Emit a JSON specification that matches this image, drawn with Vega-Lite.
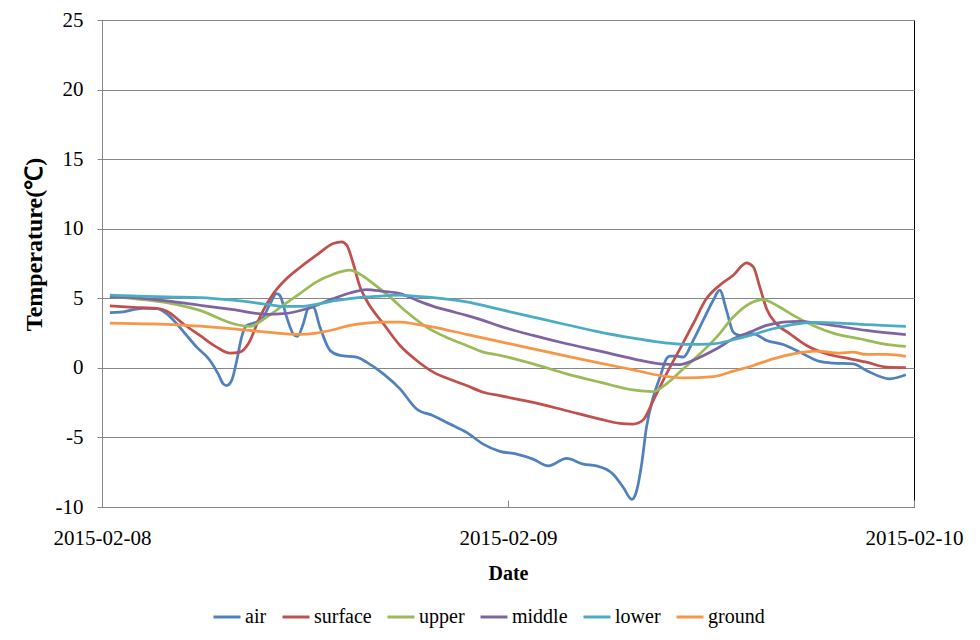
{
  "$schema": "https://vega.github.io/schema/vega-lite/v6.json",
  "width": 812,
  "height": 487,
  "autosize": {"type": "none"},
  "padding": {"left": 102, "top": 20, "right": 66, "bottom": 133},
  "background": "#ffffff",
  "config": {
    "view": {"stroke": "#000000", "strokeWidth": 1},
    "font": "Liberation Serif"
  },
  "data": {
    "values": [
      {"t": "2015-02-08T00:28", "s": "air", "v": 3.97},
      {"t": "2015-02-08T01:04", "s": "air", "v": 4.0},
      {"t": "2015-02-08T01:51", "s": "air", "v": 4.18},
      {"t": "2015-02-08T02:26", "s": "air", "v": 4.28},
      {"t": "2015-02-08T03:14", "s": "air", "v": 4.25},
      {"t": "2015-02-08T03:49", "s": "air", "v": 3.9},
      {"t": "2015-02-08T04:25", "s": "air", "v": 3.17},
      {"t": "2015-02-08T05:00", "s": "air", "v": 2.33},
      {"t": "2015-02-08T05:36", "s": "air", "v": 1.49},
      {"t": "2015-02-08T06:23", "s": "air", "v": 0.53},
      {"t": "2015-02-08T06:52", "s": "air", "v": -0.43},
      {"t": "2015-02-08T07:10", "s": "air", "v": -1.15},
      {"t": "2015-02-08T07:22", "s": "air", "v": -1.27},
      {"t": "2015-02-08T07:40", "s": "air", "v": -0.9},
      {"t": "2015-02-08T07:58", "s": "air", "v": 0.53},
      {"t": "2015-02-08T08:15", "s": "air", "v": 2.2},
      {"t": "2015-02-08T08:33", "s": "air", "v": 3.05},
      {"t": "2015-02-08T09:09", "s": "air", "v": 3.3},
      {"t": "2015-02-08T09:32", "s": "air", "v": 3.65},
      {"t": "2015-02-08T09:56", "s": "air", "v": 4.6},
      {"t": "2015-02-08T10:19", "s": "air", "v": 5.34},
      {"t": "2015-02-08T10:31", "s": "air", "v": 5.2},
      {"t": "2015-02-08T10:55", "s": "air", "v": 3.65},
      {"t": "2015-02-08T11:18", "s": "air", "v": 2.45},
      {"t": "2015-02-08T11:33", "s": "air", "v": 2.26},
      {"t": "2015-02-08T11:54", "s": "air", "v": 3.17},
      {"t": "2015-02-08T12:11", "s": "air", "v": 4.25},
      {"t": "2015-02-08T12:29", "s": "air", "v": 4.37},
      {"t": "2015-02-08T12:53", "s": "air", "v": 2.93},
      {"t": "2015-02-08T13:29", "s": "air", "v": 1.25},
      {"t": "2015-02-08T14:04", "s": "air", "v": 0.89},
      {"t": "2015-02-08T15:03", "s": "air", "v": 0.77},
      {"t": "2015-02-08T15:38", "s": "air", "v": 0.41},
      {"t": "2015-02-08T16:38", "s": "air", "v": -0.43},
      {"t": "2015-02-08T17:37", "s": "air", "v": -1.51},
      {"t": "2015-02-08T18:36", "s": "air", "v": -2.96},
      {"t": "2015-02-08T19:35", "s": "air", "v": -3.44},
      {"t": "2015-02-08T20:34", "s": "air", "v": -4.04},
      {"t": "2015-02-08T21:33", "s": "air", "v": -4.64},
      {"t": "2015-02-08T22:32", "s": "air", "v": -5.48},
      {"t": "2015-02-08T23:31", "s": "air", "v": -6.0},
      {"t": "2015-02-09T00:31", "s": "air", "v": -6.2},
      {"t": "2015-02-09T01:29", "s": "air", "v": -6.56},
      {"t": "2015-02-09T02:23", "s": "air", "v": -7.04},
      {"t": "2015-02-09T03:28", "s": "air", "v": -6.51},
      {"t": "2015-02-09T04:27", "s": "air", "v": -6.92},
      {"t": "2015-02-09T05:14", "s": "air", "v": -7.04},
      {"t": "2015-02-09T06:13", "s": "air", "v": -7.64},
      {"t": "2015-02-09T06:49", "s": "air", "v": -8.6},
      {"t": "2015-02-09T07:19", "s": "air", "v": -9.45},
      {"t": "2015-02-09T07:36", "s": "air", "v": -8.85},
      {"t": "2015-02-09T07:54", "s": "air", "v": -6.92},
      {"t": "2015-02-09T08:11", "s": "air", "v": -4.28},
      {"t": "2015-02-09T08:35", "s": "air", "v": -2.1},
      {"t": "2015-02-09T08:59", "s": "air", "v": -0.67},
      {"t": "2015-02-09T09:22", "s": "air", "v": 0.65},
      {"t": "2015-02-09T09:34", "s": "air", "v": 0.84},
      {"t": "2015-02-09T09:58", "s": "air", "v": 0.84},
      {"t": "2015-02-09T10:22", "s": "air", "v": 0.77},
      {"t": "2015-02-09T10:57", "s": "air", "v": 1.97},
      {"t": "2015-02-09T11:32", "s": "air", "v": 3.41},
      {"t": "2015-02-09T12:08", "s": "air", "v": 4.86},
      {"t": "2015-02-09T12:31", "s": "air", "v": 5.58},
      {"t": "2015-02-09T12:55", "s": "air", "v": 4.13},
      {"t": "2015-02-09T13:19", "s": "air", "v": 2.57},
      {"t": "2015-02-09T13:42", "s": "air", "v": 2.33},
      {"t": "2015-02-09T14:30", "s": "air", "v": 2.45},
      {"t": "2015-02-09T15:17", "s": "air", "v": 1.97},
      {"t": "2015-02-09T16:16", "s": "air", "v": 1.68},
      {"t": "2015-02-09T17:15", "s": "air", "v": 1.13},
      {"t": "2015-02-09T18:26", "s": "air", "v": 0.46},
      {"t": "2015-02-09T19:13", "s": "air", "v": 0.34},
      {"t": "2015-02-09T20:24", "s": "air", "v": 0.29},
      {"t": "2015-02-09T21:11", "s": "air", "v": -0.19},
      {"t": "2015-02-09T22:34", "s": "air", "v": -0.79},
      {"t": "2015-02-09T23:31", "s": "air", "v": -0.5},

      {"t": "2015-02-08T00:28", "s": "surface", "v": 4.45},
      {"t": "2015-02-08T01:51", "s": "surface", "v": 4.35},
      {"t": "2015-02-08T03:14", "s": "surface", "v": 4.28},
      {"t": "2015-02-08T03:49", "s": "surface", "v": 4.09},
      {"t": "2015-02-08T04:48", "s": "surface", "v": 3.17},
      {"t": "2015-02-08T05:47", "s": "surface", "v": 2.33},
      {"t": "2015-02-08T06:47", "s": "surface", "v": 1.49},
      {"t": "2015-02-08T07:34", "s": "surface", "v": 1.06},
      {"t": "2015-02-08T08:09", "s": "surface", "v": 1.13},
      {"t": "2015-02-08T08:39", "s": "surface", "v": 1.73},
      {"t": "2015-02-08T09:20", "s": "surface", "v": 3.65},
      {"t": "2015-02-08T10:08", "s": "surface", "v": 5.34},
      {"t": "2015-02-08T10:55", "s": "surface", "v": 6.42},
      {"t": "2015-02-08T11:42", "s": "surface", "v": 7.21},
      {"t": "2015-02-08T12:41", "s": "surface", "v": 8.1},
      {"t": "2015-02-08T13:40", "s": "surface", "v": 8.94},
      {"t": "2015-02-08T14:10", "s": "surface", "v": 9.06},
      {"t": "2015-02-08T14:28", "s": "surface", "v": 8.82},
      {"t": "2015-02-08T14:51", "s": "surface", "v": 7.5},
      {"t": "2015-02-08T15:15", "s": "surface", "v": 5.82},
      {"t": "2015-02-08T15:38", "s": "surface", "v": 4.86},
      {"t": "2015-02-08T16:38", "s": "surface", "v": 3.17},
      {"t": "2015-02-08T17:37", "s": "surface", "v": 1.61},
      {"t": "2015-02-08T18:36", "s": "surface", "v": 0.53},
      {"t": "2015-02-08T19:35", "s": "surface", "v": -0.31},
      {"t": "2015-02-08T20:46", "s": "surface", "v": -0.91},
      {"t": "2015-02-08T21:33", "s": "surface", "v": -1.27},
      {"t": "2015-02-08T22:32", "s": "surface", "v": -1.75},
      {"t": "2015-02-08T23:31", "s": "surface", "v": -2.0},
      {"t": "2015-02-09T01:29", "s": "surface", "v": -2.48},
      {"t": "2015-02-09T03:28", "s": "surface", "v": -3.08},
      {"t": "2015-02-09T05:26", "s": "surface", "v": -3.68},
      {"t": "2015-02-09T06:37", "s": "surface", "v": -3.99},
      {"t": "2015-02-09T07:24", "s": "surface", "v": -4.04},
      {"t": "2015-02-09T07:59", "s": "surface", "v": -3.75},
      {"t": "2015-02-09T08:35", "s": "surface", "v": -2.36},
      {"t": "2015-02-09T09:22", "s": "surface", "v": -0.43},
      {"t": "2015-02-09T10:10", "s": "surface", "v": 1.37},
      {"t": "2015-02-09T10:57", "s": "surface", "v": 3.17},
      {"t": "2015-02-09T11:44", "s": "surface", "v": 4.98},
      {"t": "2015-02-09T12:31", "s": "surface", "v": 5.94},
      {"t": "2015-02-09T13:19", "s": "surface", "v": 6.66},
      {"t": "2015-02-09T14:06", "s": "surface", "v": 7.55},
      {"t": "2015-02-09T14:30", "s": "surface", "v": 7.26},
      {"t": "2015-02-09T14:53", "s": "surface", "v": 5.82},
      {"t": "2015-02-09T15:17", "s": "surface", "v": 4.25},
      {"t": "2015-02-09T15:52", "s": "surface", "v": 3.17},
      {"t": "2015-02-09T16:40", "s": "surface", "v": 2.45},
      {"t": "2015-02-09T17:39", "s": "surface", "v": 1.61},
      {"t": "2015-02-09T18:50", "s": "surface", "v": 1.01},
      {"t": "2015-02-09T20:13", "s": "surface", "v": 0.65},
      {"t": "2015-02-09T21:11", "s": "surface", "v": 0.41},
      {"t": "2015-02-09T22:23", "s": "surface", "v": 0.05},
      {"t": "2015-02-09T23:31", "s": "surface", "v": 0.02},

      {"t": "2015-02-08T00:28", "s": "upper", "v": 5.14},
      {"t": "2015-02-08T01:51", "s": "upper", "v": 4.98},
      {"t": "2015-02-08T03:49", "s": "upper", "v": 4.69},
      {"t": "2015-02-08T05:47", "s": "upper", "v": 4.13},
      {"t": "2015-02-08T07:46", "s": "upper", "v": 3.17},
      {"t": "2015-02-08T08:45", "s": "upper", "v": 2.98},
      {"t": "2015-02-08T09:44", "s": "upper", "v": 3.65},
      {"t": "2015-02-08T10:43", "s": "upper", "v": 4.5},
      {"t": "2015-02-08T11:42", "s": "upper", "v": 5.34},
      {"t": "2015-02-08T12:41", "s": "upper", "v": 6.18},
      {"t": "2015-02-08T13:40", "s": "upper", "v": 6.73},
      {"t": "2015-02-08T14:39", "s": "upper", "v": 7.02},
      {"t": "2015-02-08T15:15", "s": "upper", "v": 6.73},
      {"t": "2015-02-08T16:02", "s": "upper", "v": 6.06},
      {"t": "2015-02-08T17:01", "s": "upper", "v": 5.1},
      {"t": "2015-02-08T18:01", "s": "upper", "v": 4.01},
      {"t": "2015-02-08T19:11", "s": "upper", "v": 2.93},
      {"t": "2015-02-08T20:34", "s": "upper", "v": 2.09},
      {"t": "2015-02-08T21:33", "s": "upper", "v": 1.61},
      {"t": "2015-02-08T22:32", "s": "upper", "v": 1.13},
      {"t": "2015-02-08T23:31", "s": "upper", "v": 0.9},
      {"t": "2015-02-09T01:29", "s": "upper", "v": 0.29},
      {"t": "2015-02-09T03:28", "s": "upper", "v": -0.43},
      {"t": "2015-02-09T05:26", "s": "upper", "v": -1.03},
      {"t": "2015-02-09T07:24", "s": "upper", "v": -1.59},
      {"t": "2015-02-09T08:35", "s": "upper", "v": -1.71},
      {"t": "2015-02-09T09:22", "s": "upper", "v": -1.15},
      {"t": "2015-02-09T10:22", "s": "upper", "v": -0.07},
      {"t": "2015-02-09T11:21", "s": "upper", "v": 1.01},
      {"t": "2015-02-09T12:20", "s": "upper", "v": 2.21},
      {"t": "2015-02-09T13:19", "s": "upper", "v": 3.65},
      {"t": "2015-02-09T14:18", "s": "upper", "v": 4.62},
      {"t": "2015-02-09T15:05", "s": "upper", "v": 4.9},
      {"t": "2015-02-09T15:52", "s": "upper", "v": 4.5},
      {"t": "2015-02-09T16:52", "s": "upper", "v": 3.77},
      {"t": "2015-02-09T18:02", "s": "upper", "v": 3.05},
      {"t": "2015-02-09T19:13", "s": "upper", "v": 2.5},
      {"t": "2015-02-09T20:48", "s": "upper", "v": 2.09},
      {"t": "2015-02-09T22:11", "s": "upper", "v": 1.73},
      {"t": "2015-02-09T23:31", "s": "upper", "v": 1.54},

      {"t": "2015-02-08T00:28", "s": "middle", "v": 5.1},
      {"t": "2015-02-08T01:51", "s": "middle", "v": 5.05},
      {"t": "2015-02-08T03:49", "s": "middle", "v": 4.81},
      {"t": "2015-02-08T05:47", "s": "middle", "v": 4.5},
      {"t": "2015-02-08T07:46", "s": "middle", "v": 4.18},
      {"t": "2015-02-08T09:44", "s": "middle", "v": 3.85},
      {"t": "2015-02-08T10:43", "s": "middle", "v": 3.89},
      {"t": "2015-02-08T12:06", "s": "middle", "v": 4.25},
      {"t": "2015-02-08T13:40", "s": "middle", "v": 4.98},
      {"t": "2015-02-08T14:39", "s": "middle", "v": 5.38},
      {"t": "2015-02-08T15:38", "s": "middle", "v": 5.63},
      {"t": "2015-02-08T16:38", "s": "middle", "v": 5.5},
      {"t": "2015-02-08T17:37", "s": "middle", "v": 5.34},
      {"t": "2015-02-08T18:36", "s": "middle", "v": 4.86},
      {"t": "2015-02-08T19:35", "s": "middle", "v": 4.42},
      {"t": "2015-02-08T20:34", "s": "middle", "v": 4.09},
      {"t": "2015-02-08T21:33", "s": "middle", "v": 3.77},
      {"t": "2015-02-08T22:32", "s": "middle", "v": 3.41},
      {"t": "2015-02-08T23:31", "s": "middle", "v": 3.0},
      {"t": "2015-02-09T01:29", "s": "middle", "v": 2.33},
      {"t": "2015-02-09T03:28", "s": "middle", "v": 1.73},
      {"t": "2015-02-09T05:26", "s": "middle", "v": 1.2},
      {"t": "2015-02-09T07:24", "s": "middle", "v": 0.65},
      {"t": "2015-02-09T08:59", "s": "middle", "v": 0.29},
      {"t": "2015-02-09T10:10", "s": "middle", "v": 0.24},
      {"t": "2015-02-09T11:21", "s": "middle", "v": 0.77},
      {"t": "2015-02-09T12:20", "s": "middle", "v": 1.37},
      {"t": "2015-02-09T13:19", "s": "middle", "v": 2.09},
      {"t": "2015-02-09T14:18", "s": "middle", "v": 2.57},
      {"t": "2015-02-09T15:17", "s": "middle", "v": 3.05},
      {"t": "2015-02-09T16:16", "s": "middle", "v": 3.29},
      {"t": "2015-02-09T17:15", "s": "middle", "v": 3.34},
      {"t": "2015-02-09T18:14", "s": "middle", "v": 3.22},
      {"t": "2015-02-09T19:13", "s": "middle", "v": 3.05},
      {"t": "2015-02-09T21:11", "s": "middle", "v": 2.69},
      {"t": "2015-02-09T23:31", "s": "middle", "v": 2.38},

      {"t": "2015-02-08T00:28", "s": "lower", "v": 5.22},
      {"t": "2015-02-08T01:51", "s": "lower", "v": 5.17},
      {"t": "2015-02-08T03:49", "s": "lower", "v": 5.1},
      {"t": "2015-02-08T05:47", "s": "lower", "v": 5.05},
      {"t": "2015-02-08T07:46", "s": "lower", "v": 4.86},
      {"t": "2015-02-08T09:44", "s": "lower", "v": 4.57},
      {"t": "2015-02-08T10:43", "s": "lower", "v": 4.42},
      {"t": "2015-02-08T11:42", "s": "lower", "v": 4.42},
      {"t": "2015-02-08T12:41", "s": "lower", "v": 4.57},
      {"t": "2015-02-08T13:40", "s": "lower", "v": 4.81},
      {"t": "2015-02-08T14:39", "s": "lower", "v": 4.98},
      {"t": "2015-02-08T15:38", "s": "lower", "v": 5.1},
      {"t": "2015-02-08T16:38", "s": "lower", "v": 5.17},
      {"t": "2015-02-08T17:37", "s": "lower", "v": 5.22},
      {"t": "2015-02-08T18:36", "s": "lower", "v": 5.14},
      {"t": "2015-02-08T19:35", "s": "lower", "v": 5.05},
      {"t": "2015-02-08T21:33", "s": "lower", "v": 4.74},
      {"t": "2015-02-08T23:31", "s": "lower", "v": 4.2},
      {"t": "2015-02-09T01:29", "s": "lower", "v": 3.65},
      {"t": "2015-02-09T03:28", "s": "lower", "v": 3.1},
      {"t": "2015-02-09T05:26", "s": "lower", "v": 2.57},
      {"t": "2015-02-09T07:24", "s": "lower", "v": 2.14},
      {"t": "2015-02-09T09:22", "s": "lower", "v": 1.78},
      {"t": "2015-02-09T10:33", "s": "lower", "v": 1.68},
      {"t": "2015-02-09T12:08", "s": "lower", "v": 1.73},
      {"t": "2015-02-09T13:19", "s": "lower", "v": 2.02},
      {"t": "2015-02-09T14:30", "s": "lower", "v": 2.4},
      {"t": "2015-02-09T15:40", "s": "lower", "v": 2.81},
      {"t": "2015-02-09T16:52", "s": "lower", "v": 3.13},
      {"t": "2015-02-09T18:14", "s": "lower", "v": 3.27},
      {"t": "2015-02-09T19:37", "s": "lower", "v": 3.22},
      {"t": "2015-02-09T21:11", "s": "lower", "v": 3.1},
      {"t": "2015-02-09T23:31", "s": "lower", "v": 2.98},

      {"t": "2015-02-08T00:28", "s": "ground", "v": 3.22},
      {"t": "2015-02-08T01:51", "s": "ground", "v": 3.17},
      {"t": "2015-02-08T03:49", "s": "ground", "v": 3.13},
      {"t": "2015-02-08T05:47", "s": "ground", "v": 3.0},
      {"t": "2015-02-08T07:46", "s": "ground", "v": 2.81},
      {"t": "2015-02-08T09:44", "s": "ground", "v": 2.57},
      {"t": "2015-02-08T11:42", "s": "ground", "v": 2.4},
      {"t": "2015-02-08T12:41", "s": "ground", "v": 2.5},
      {"t": "2015-02-08T13:40", "s": "ground", "v": 2.74},
      {"t": "2015-02-08T14:39", "s": "ground", "v": 3.05},
      {"t": "2015-02-08T15:38", "s": "ground", "v": 3.22},
      {"t": "2015-02-08T16:38", "s": "ground", "v": 3.29},
      {"t": "2015-02-08T17:37", "s": "ground", "v": 3.29},
      {"t": "2015-02-08T18:36", "s": "ground", "v": 3.13},
      {"t": "2015-02-08T19:35", "s": "ground", "v": 2.93},
      {"t": "2015-02-08T21:33", "s": "ground", "v": 2.4},
      {"t": "2015-02-08T23:31", "s": "ground", "v": 1.88},
      {"t": "2015-02-09T01:29", "s": "ground", "v": 1.37},
      {"t": "2015-02-09T03:28", "s": "ground", "v": 0.84},
      {"t": "2015-02-09T05:26", "s": "ground", "v": 0.34},
      {"t": "2015-02-09T07:24", "s": "ground", "v": -0.14},
      {"t": "2015-02-09T08:59", "s": "ground", "v": -0.55},
      {"t": "2015-02-09T10:22", "s": "ground", "v": -0.72},
      {"t": "2015-02-09T12:08", "s": "ground", "v": -0.63},
      {"t": "2015-02-09T13:19", "s": "ground", "v": -0.24},
      {"t": "2015-02-09T14:30", "s": "ground", "v": 0.17},
      {"t": "2015-02-09T15:40", "s": "ground", "v": 0.65},
      {"t": "2015-02-09T16:52", "s": "ground", "v": 1.01},
      {"t": "2015-02-09T18:14", "s": "ground", "v": 1.2},
      {"t": "2015-02-09T19:37", "s": "ground", "v": 1.06},
      {"t": "2015-02-09T20:24", "s": "ground", "v": 1.13},
      {"t": "2015-02-09T21:11", "s": "ground", "v": 0.96},
      {"t": "2015-02-09T22:23", "s": "ground", "v": 0.96},
      {"t": "2015-02-09T23:31", "s": "ground", "v": 0.82}
    ]
  },
  "mark": {"type": "line", "interpolate": "monotone", "strokeWidth": 2.75},
  "encoding": {
    "x": {
      "field": "t",
      "type": "temporal",
      "scale": {"domain": [{"year": 2015, "month": 2, "date": 8}, {"year": 2015, "month": 2, "date": 10}]},
      "axis": {
        "values": [{"year": 2015, "month": 2, "date": 8}, {"year": 2015, "month": 2, "date": 9}, {"year": 2015, "month": 2, "date": 10}],
        "format": "%Y-%m-%d",
        "grid": false,
        "domainColor": "#868686",
        "tickColor": "#868686",
        "tickSize": -7,
        "labelPadding": 27,
        "labelFont": "Liberation Serif",
        "labelFontSize": 21,
        "labelColor": "#000000",
        "labelFlush": false,
        "labelOverlap": false,
        "title": "Date",
        "titleFont": "Liberation Serif",
        "titleFontSize": 20,
        "titleFontWeight": "bold",
        "titleColor": "#000000",
        "titlePadding": 15
      }
    },
    "y": {
      "field": "v",
      "type": "quantitative",
      "scale": {"domain": [-10, 25], "nice": false, "zero": false},
      "axis": {
        "values": [-10, -5, 0, 5, 10, 15, 20, 25],
        "labelExpr": "'' + datum.value",
        "grid": true,
        "gridColor": "#868686",
        "gridWidth": 1,
        "domainColor": "#868686",
        "tickColor": "#868686",
        "tickSize": 5,
        "labelPadding": 14,
        "labelFont": "Liberation Serif",
        "labelFontSize": 21,
        "labelColor": "#000000",
        "title": "Temperature(℃)",
        "titleFont": "Liberation Serif",
        "titleFontSize": 24,
        "titleFontWeight": "bold",
        "titleColor": "#000000",
        "titlePadding": 9,
        "titleY": 224
      }
    },
    "color": {
      "field": "s",
      "type": "nominal",
      "sort": ["air", "surface", "upper", "middle", "lower", "ground"],
      "scale": {
        "domain": ["air", "surface", "upper", "middle", "lower", "ground"],
        "range": ["#4F81BD", "#C0504D", "#9BBB59", "#8064A2", "#4BACC6", "#F79646"]
      },
      "legend": {
        "orient": "none",
        "legendX": 110,
        "legendY": 582,
        "direction": "horizontal",
        "title": null,
        "symbolType": "stroke",
        "symbolSize": 729,
        "symbolStrokeWidth": 3,
        "labelFont": "Liberation Serif",
        "labelFontSize": 20,
        "labelColor": "#000000",
        "labelOffset": 3,
        "columnPadding": 9
      }
    }
  }
}
